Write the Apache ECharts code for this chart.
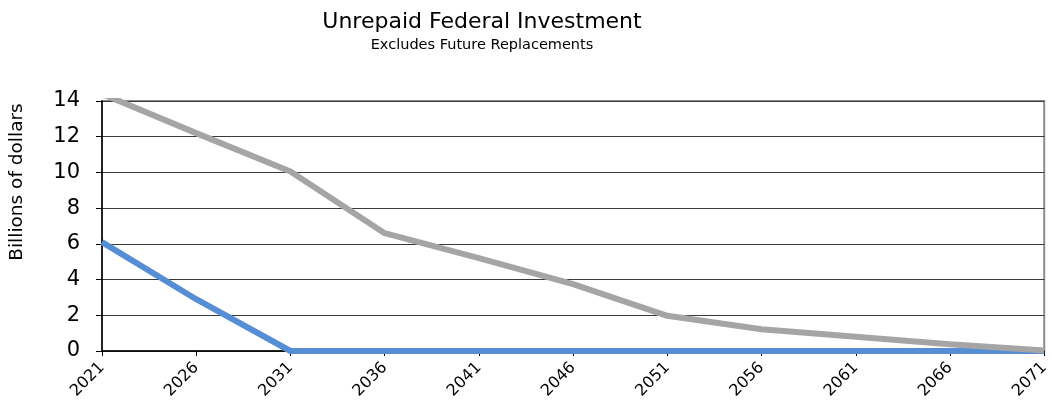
<!DOCTYPE html>
<html>
<head>
<meta charset="utf-8">
<script src="https://cdn.jsdelivr.net/npm/echarts@6/dist/echarts.min.js"></script>
<style>html,body{margin:0;padding:0;background:#fff;}#c{width:1052px;height:415px;}</style>
</head>
<body>
<div id="c"></div>
<script>
const years = ['2021','2026','2031','2036','2041','2046','2051','2056','2061','2066','2071'];
const grayValues = [14.4, 12.2, 10.05, 6.6, 5.2, 3.75, 1.97, 1.22, 0.8, 0.38, 0.03];
const blueValues = [6.1, 2.9, 0, 0, 0, 0, 0, 0, 0, 0, 0];
const yTicks = {min: 0, max: 14, interval: 2};
const titleText = 'Unrepaid Federal Investment';
const subtitleText = 'Excludes Future Replacements';
const yName = 'Billions of dollars';

const chart = echarts.init(document.getElementById('c'), null, {renderer: 'canvas'});
const FONT = 'DejaVu Sans, Verdana, sans-serif';
chart.setOption({
  animation: false,
  backgroundColor: '#fff',
  title: [
    {text: titleText, left: 477, textAlign: 'center', top: 6,
     textStyle: {fontFamily: FONT, fontSize: 22, fontWeight: 'normal', color: '#000'}},
    {text: subtitleText, left: 477, textAlign: 'center', top: 33,
     textStyle: {fontFamily: FONT, fontSize: 14.5, fontWeight: 'normal', color: '#000'}}
  ],
  graphic: [
    {type: 'text', x: 17.5, y: 182, rotation: Math.PI / 2,
     style: {text: yName, fontFamily: FONT, fontSize: 18.5, fill: '#000', align: 'center', verticalAlign: 'middle'}}
  ],
  grid: {left: 102, right: 7, top: 101, bottom: 64, show: true, borderColor: '#8c8c8c', borderWidth: 2, backgroundColor: 'transparent'},
  xAxis: {
    type: 'category', data: years, boundaryGap: false,
    axisLine: {lineStyle: {color: '#000', width: 1.5}},
    axisTick: {show: true, length: 5, lineStyle: {color: '#000'}},
    axisLabel: {rotate: 45, fontFamily: FONT, fontSize: 16, color: '#000', margin: 14},
    splitLine: {show: false}
  },
  yAxis: {
    type: 'value', min: yTicks.min, max: yTicks.max, interval: yTicks.interval,
    axisLine: {show: true, lineStyle: {color: '#000', width: 1.5}},
    axisTick: {show: true, length: 6, lineStyle: {color: '#000'}},
    axisLabel: {fontFamily: FONT, fontSize: 21, color: '#000', margin: 22},
    splitLine: {show: true, lineStyle: {color: '#3a3a3a', width: 1}}
  },
  series: [
    {type: 'line', data: blueValues, symbol: 'none', clip: true, z: 3,
     lineStyle: {color: '#558ed5', width: 6}},
    {type: 'line', data: grayValues, symbol: 'none', clip: true, z: 4,
     lineStyle: {color: '#a5a5a5', width: 6}}
  ]
});
</script>
</body>
</html>
